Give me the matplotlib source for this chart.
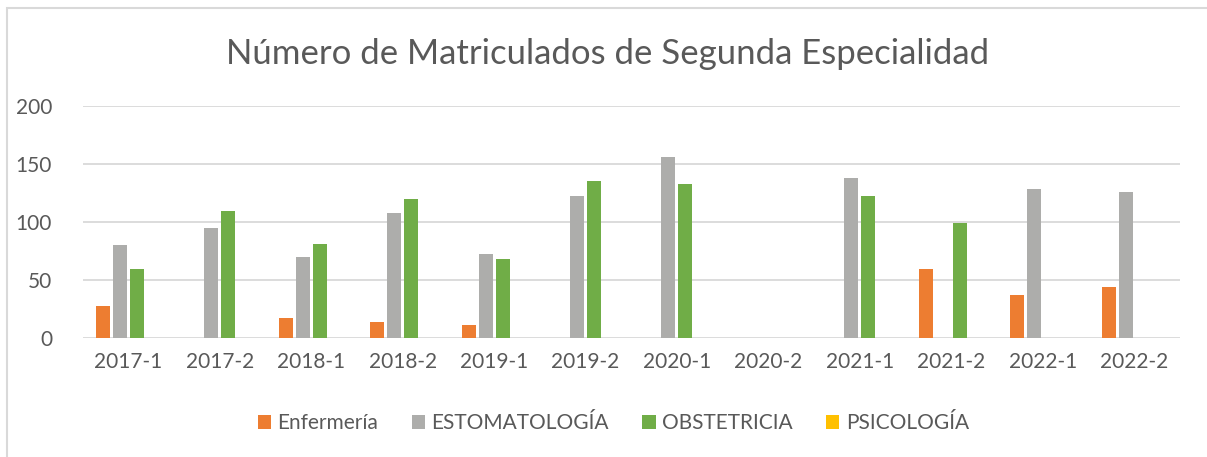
import numpy as np
import matplotlib
matplotlib.use('Agg')
import matplotlib.pyplot as plt
from matplotlib.patches import Rectangle

plt.rcParams['font.family'] = ['Lato', 'DejaVu Sans']

periodos = ["2017-1", "2017-2", "2018-1", "2018-2", "2019-1", "2019-2",
            "2020-1", "2020-2", "2021-1", "2021-2", "2022-1", "2022-2"]
enfermeria = [27, 0, 17, 14, 11, 0, 0, 0, 0, 59, 37, 44]
estomatologia = [80, 95, 70, 108, 72, 122, 156, 0, 138, 0, 128, 126]
obstetricia = [59, 109, 81, 120, 68, 135, 133, 0, 122, 99, 0, 0]
psicologia = [0, 0, 0, 0, 0, 0, 0, 0, 0, 0, 0, 0]

series = ["Enfermería", "ESTOMATOLOGÍA", "OBSTETRICIA", "PSICOLOGÍA"]
colores = ["#ED7D31", "#ADADAB", "#70AD47", "#FFC000"]
texto = "#595959"

fig = plt.figure(figsize=(12.07, 4.57), dpi=100)
ax = fig.add_axes([0.0685, 0.261, 0.909, 0.507])

x = np.arange(len(periodos))
paso = 0.186
ancho = 0.153
datos = [enfermeria, estomatologia, obstetricia, psicologia]
for i, (vals, nombre, c) in enumerate(zip(datos, series, colores)):
    ax.bar(x + (i - 1.5) * paso, vals, ancho, color=c, label=nombre, zorder=3)

ax.set_xlim(-0.5, len(periodos) - 0.5)
ax.set_ylim(0, 200)
ax.set_yticks([0, 50, 100, 150, 200])
ax.set_xticks(x)
ax.set_xticklabels(periodos)
ax.grid(axis='y', color='#D9D9D9', linewidth=1.3, zorder=0)
for s in ax.spines.values():
    s.set_visible(False)
ax.tick_params(axis='both', length=0, colors=texto, labelsize=15)
ax.tick_params(axis='y', pad=22)
ax.tick_params(axis='x', pad=10)

fig.text(0.5035, 0.882, "Número de Matriculados de Segunda Especialidad",
         ha='center', va='center', fontsize=25, color=texto)

leg = fig.legend(loc='center', bbox_to_anchor=(0.508, 0.074), ncol=4,
                 frameon=False, fontsize=15, handlelength=0.65, handleheight=0.65,
                 handletextpad=0.3, columnspacing=1.6)
for t in leg.get_texts():
    t.set_color(texto)

# marco del grafico (solo se ve arriba y a la izquierda)
fig.patches.append(Rectangle((7 / 1207, -0.1), 1.2, 1.1 - 8 / 457,
                             transform=fig.transFigure, fill=False,
                             edgecolor='#D9D9D9', linewidth=1.5))

plt.savefig("out.png", dpi=100)
